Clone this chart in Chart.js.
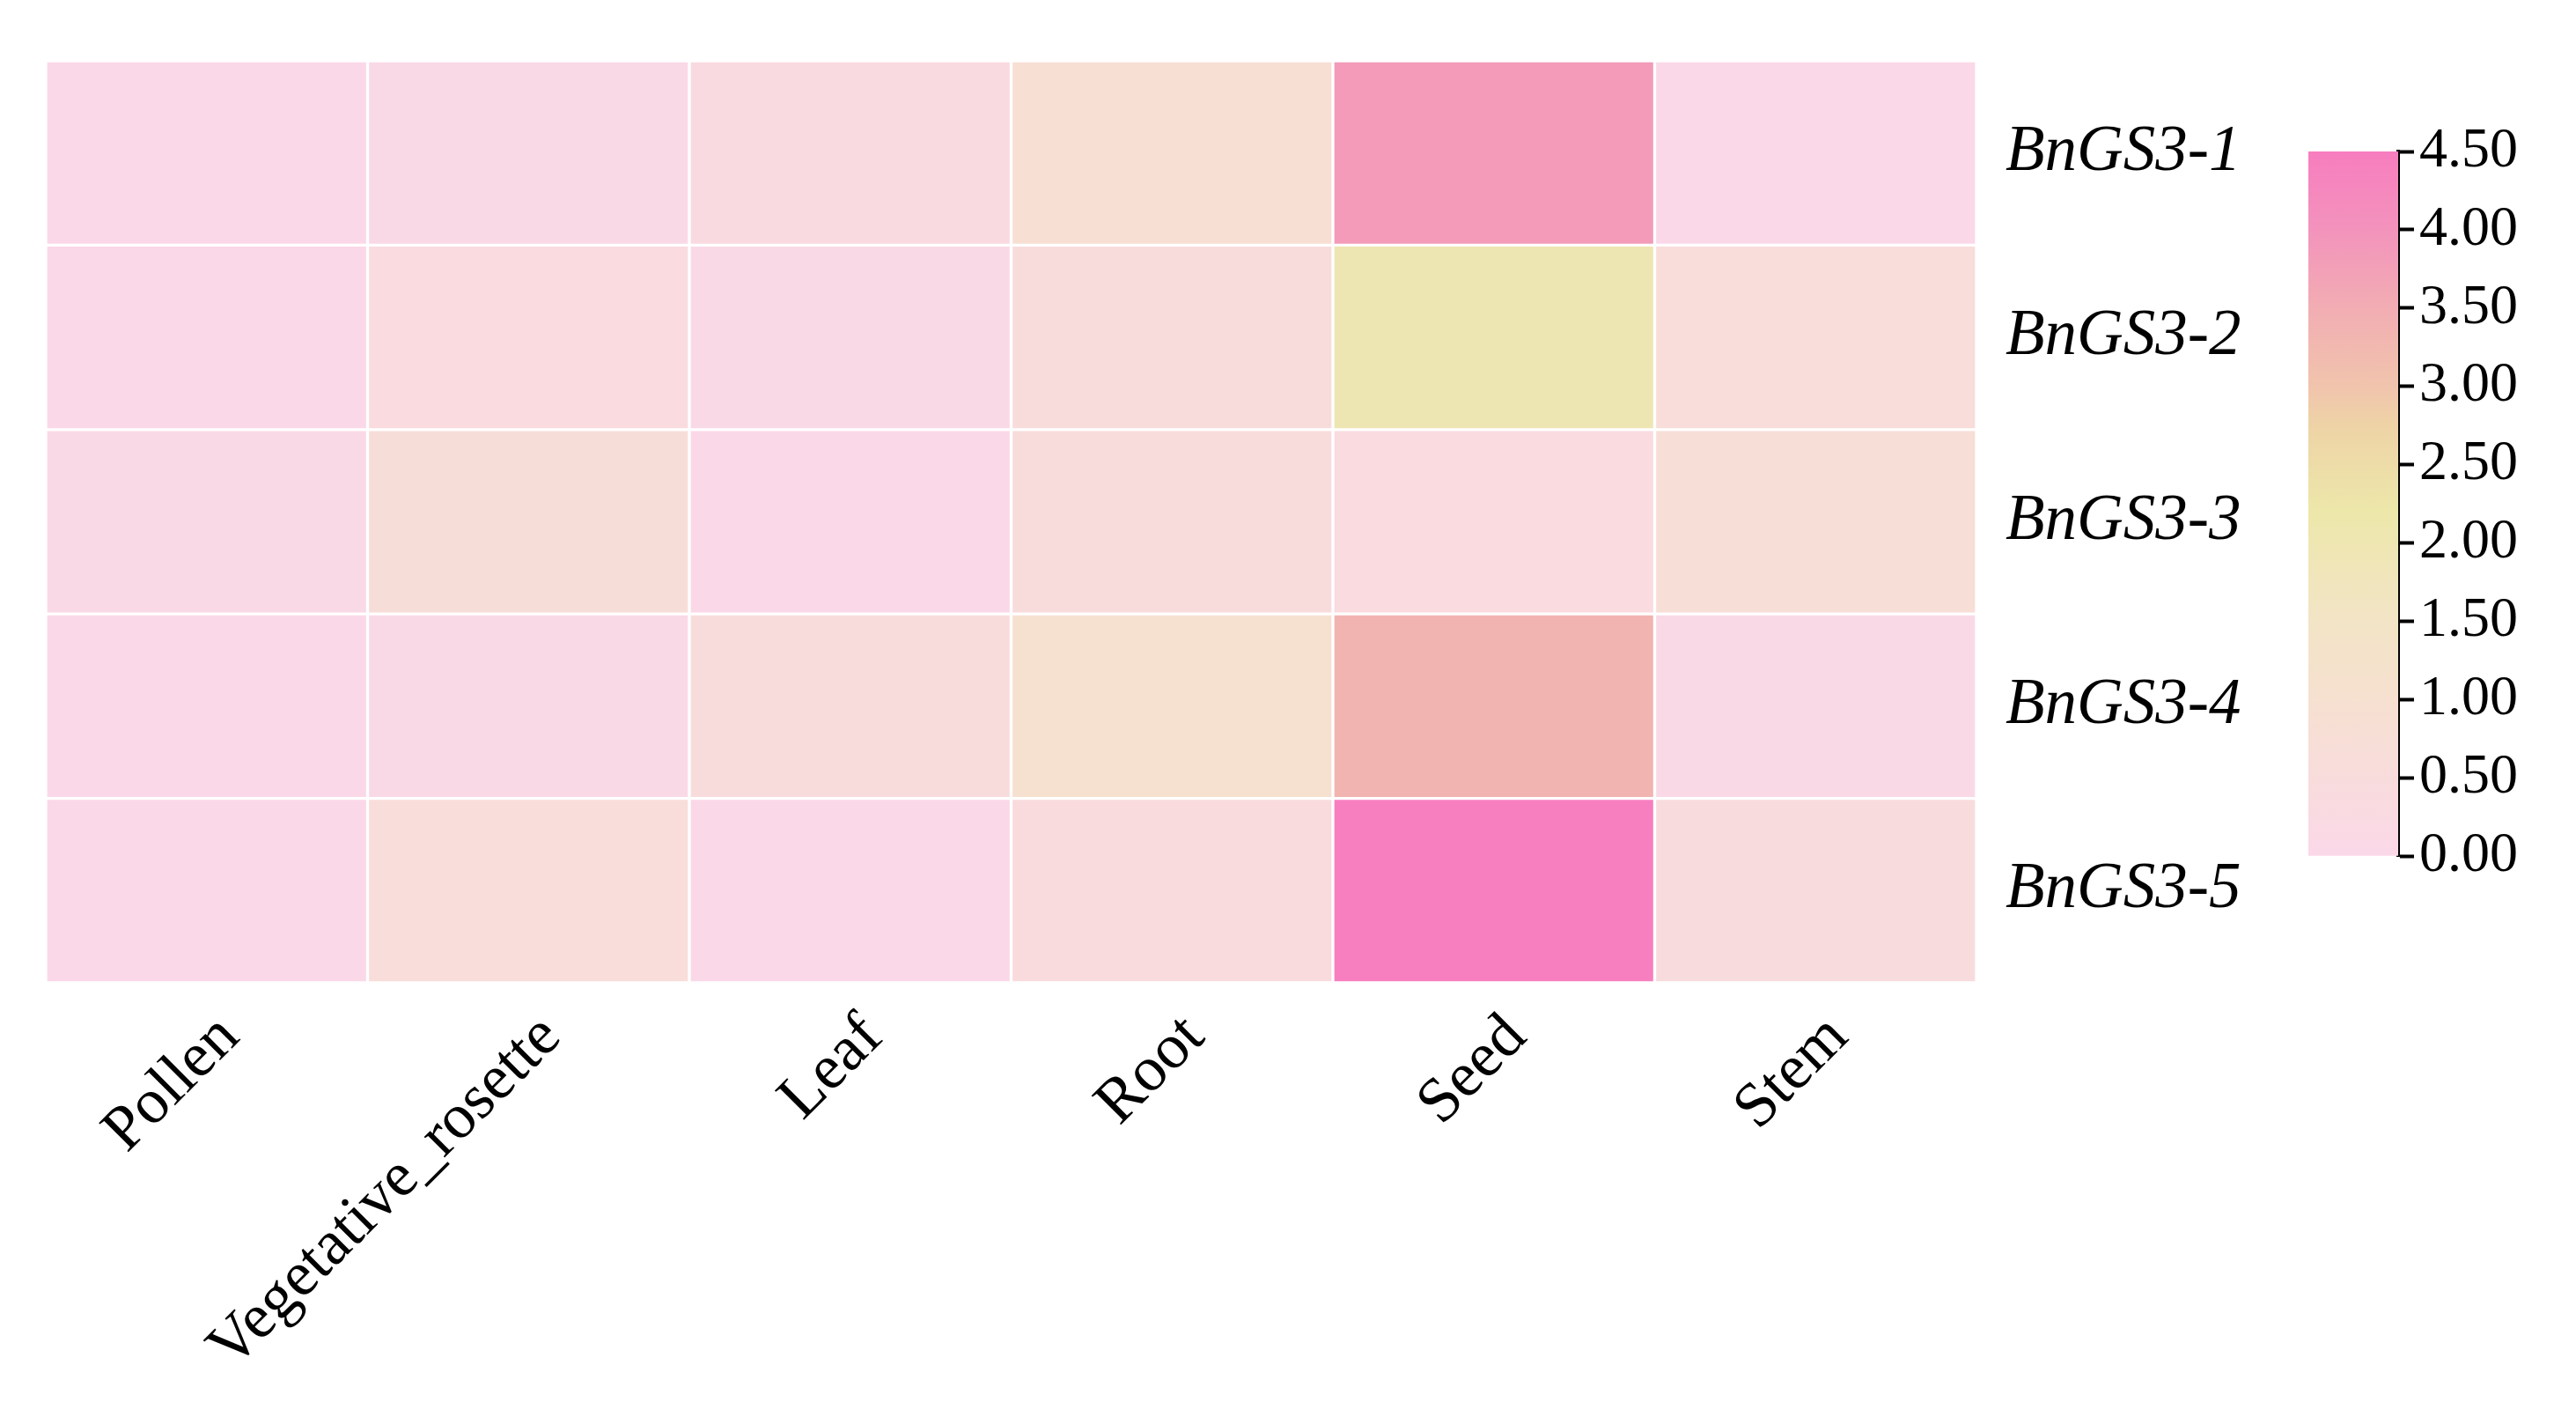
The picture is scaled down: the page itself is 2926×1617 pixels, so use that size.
<!DOCTYPE html>
<html>
<head>
<meta charset="utf-8">
<script src="https://cdn.jsdelivr.net/npm/chart.js@4.4.1/dist/chart.umd.min.js"></script>
<style>
  html, body { margin: 0; padding: 0; background: #fff; }
  body { width: 2926px; height: 1617px; position: relative; overflow: hidden; }
  #heat { position: absolute; left: 0; top: 0; }
  #cbar { position: absolute; left: 2600px; top: 100px; }
</style>
</head>
<body>
<canvas id="heat" width="2926" height="1617"></canvas>
<canvas id="cbar" width="326" height="950"></canvas>
<script>
// data
const tissues = ["Pollen", "Vegetative_rosette", "Leaf", "Root", "Seed", "Stem"];
const genes = ["BnGS3-1", "BnGS3-2", "BnGS3-3", "BnGS3-4", "BnGS3-5"];
const gs1 = [0.00, 0.10, 0.30, 0.85, 3.85, 0.05];
const gs2 = [0.05, 0.35, 0.10, 0.50, 2.00, 0.60];
const gs3 = [0.10, 0.65, 0.05, 0.55, 0.35, 0.70];
const gs4 = [0.05, 0.10, 0.55, 1.05, 3.35, 0.10];
const gs5 = [0.05, 0.60, 0.05, 0.40, 4.45, 0.45];
const cbTicks = [0, 0.5, 1, 1.5, 2, 2.5, 3, 3.5, 4, 4.5];

// colour scale
const cmapVals = [0, 0.5, 1.0, 1.5, 2.2, 2.75, 3.0, 3.5, 4.0, 4.5];
const cmapCols = ["#fbd8e8", "#f8dcdc", "#f6e0d0", "#f2e4c6", "#ede7aa", "#eed3a6", "#f1c4ad", "#f2adb3", "#f393bc", "#f77dbf"];
const vmin = 0, vmax = 4.5;

function hexRgb(h){ return [1,3,5].map(i => parseInt(h.substr(i,2),16)); }
function colorFor(v){
  if (v <= cmapVals[0]) return cmapCols[0];
  for (let i = 1; i < cmapVals.length; i++) {
    if (v <= cmapVals[i]) {
      const t = (v - cmapVals[i-1]) / (cmapVals[i] - cmapVals[i-1]);
      const a = hexRgb(cmapCols[i-1]), b = hexRgb(cmapCols[i]);
      const c = a.map((x, k) => Math.round(x + (b[k] - x) * t));
      return `rgb(${c[0]},${c[1]},${c[2]})`;
    }
  }
  return cmapCols[cmapCols.length-1];
}

const serif = "'Liberation Serif', 'Times New Roman', serif";
const rows = [gs1, gs2, gs3, gs4, gs5];

const heatDatasets = rows.map((vals, r) => ({
  label: genes[r],
  data: vals.map(() => [r, r + 1]),
  backgroundColor: vals.map(colorFor),
  borderColor: "#ffffff",
  borderWidth: 2,
  borderSkipped: false,
  barPercentage: 1,
  categoryPercentage: 1,
  grouped: false
}));

new Chart(document.getElementById("heat"), {
  type: "bar",
  data: { labels: tissues, datasets: heatDatasets },
  options: {
    responsive: false,
    devicePixelRatio: 1,
    animation: false,
    layout: { padding: { left: 52, top: 69, right: 381, bottom: 51 } },
    plugins: { legend: { display: false }, tooltip: { enabled: false } },
    scales: {
      x: {
        grid: { display: false },
        border: { display: false },
        ticks: {
          color: "#000",
          font: { family: serif, size: 72 },
          minRotation: 45, maxRotation: 45,
          autoSkip: false,
          labelOffset: 26,
          padding: 12
        },
        afterFit: s => { s.height = 450; }
      },
      y: {
        position: "right",
        min: 0, max: 5,
        reverse: true,
        grid: { display: false },
        border: { display: false },
        afterBuildTicks: s => { s.ticks = genes.map((g, i) => ({ value: i + 0.5 })); },
        ticks: {
          color: "#000",
          font: { family: serif, size: 73, style: "italic" },
          padding: 25,
          callback: (v, i) => genes[i]
        },
        afterFit: s => { s.width = 300; }
      }
    }
  }
});

// colour bar
new Chart(document.getElementById("cbar"), {
  type: "bar",
  data: {
    labels: [""],
    datasets: [{
      data: [[vmin, vmax]],
      backgroundColor: ctx => {
        const ch = ctx.chart;
        if (!ch.chartArea) return cmapCols[0];
        const y = ch.scales.y;
        const g = ch.ctx.createLinearGradient(0, y.getPixelForValue(vmin), 0, y.getPixelForValue(vmax));
        cmapVals.forEach((v, i) => g.addColorStop((v - vmin) / (vmax - vmin), cmapCols[i]));
        return g;
      },
      borderWidth: 0,
      barPercentage: 1,
      categoryPercentage: 1
    }]
  },
  options: {
    responsive: false,
    devicePixelRatio: 1,
    animation: false,
    layout: { padding: { left: 22, top: 72, right: 0, bottom: 78 } },
    plugins: { legend: { display: false }, tooltip: { enabled: false } },
    scales: {
      x: { display: false },
      y: {
        position: "right",
        min: vmin, max: vmax,
        afterBuildTicks: s => { s.ticks = cbTicks.map(v => ({ value: v })); },
        grid: { drawOnChartArea: false, drawTicks: true, tickLength: 18, tickColor: "#000", tickWidth: 4 },
        border: { display: true, color: "#000", width: 4 },
        ticks: {
          color: "#000",
          font: { family: serif, size: 64 },
          padding: 6,
          callback: v => Number(v).toFixed(2)
        },
        afterFit: s => { s.width = 202; }
      }
    }
  }
});
</script>
</body>
</html>
